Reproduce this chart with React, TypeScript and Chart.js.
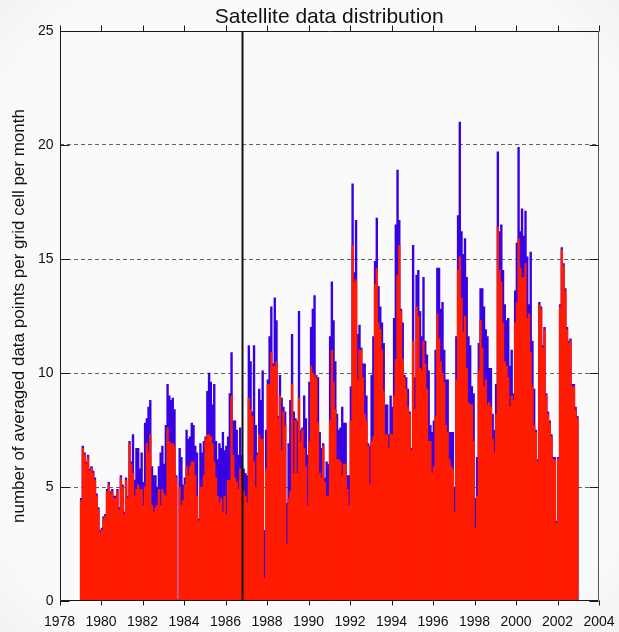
import React, { useEffect, useRef } from 'react';
import { Chart, registerables } from 'chart.js';

Chart.register(...registerables);

const TITLE = 'Satellite data distribution';
const Y_TITLE = 'number of averaged data points per grid cell per month';

const YEARS = [1979, 1980, 1981, 1982, 1983, 1984, 1985, 1986, 1987, 1988, 1989, 1990,
  1991, 1992, 1993, 1994, 1995, 1996, 1997, 1998, 1999, 2000, 2001, 2002];
const X_TICKS = [1978, 1980, 1982, 1984, 1986, 1988, 1990, 1992, 1994, 1996, 1998, 2000, 2002, 2004];
const Y_TICKS = [0, 5, 10, 15, 20, 25];
const MARKER_YEAR = 1986.82;

// red series (monthly, Jan..Dec per row)
const SUBSET = [
  4.4, 6.7, 6.4, 6.0, 6.3, 5.7, 5.8, 5.6, 5.3, 4.6, 4.0, 3.0, // 1979
  3.1, 3.6, 3.7, 4.8, 5.1, 4.7, 4.8, 4.5, 4.5, 4.8, 4.0, 5.4, // 1980
  5.0, 3.8, 5.3, 4.5, 6.9, 6.0, 5.6, 4.6, 4.9, 5.1, 4.9, 4.9, // 1981
  4.2, 5.0, 6.9, 6.5, 7.3, 4.2, 3.9, 4.1, 4.2, 4.9, 4.2, 4.9, // 1982
  4.7, 4.6, 7.6, 7.0, 6.9, 6.9, 6.8, 5.4, 0.0, 5.0, 4.2, 4.4, // 1983
  5.1, 5.9, 5.5, 5.9, 6.1, 6.1, 5.5, 4.6, 3.5, 5.0, 5.0, 5.5, // 1984
  7.1, 7.3, 7.3, 7.2, 6.9, 6.1, 5.4, 4.6, 4.3, 4.5, 3.9, 4.6, // 1985
  3.8, 5.3, 5.3, 9.0, 6.4, 5.4, 5.2, 4.9, 5.8, 5.2, 4.8, 4.6, // 1986
  4.3, 8.9, 8.4, 8.1, 6.1, 5.0, 6.4, 7.3, 7.1, 7.1, 1.0, 5.8, // 1987
  9.5, 9.5, 10.9, 10.3, 10.3, 10.5, 8.0, 9.0, 6.6, 8.3, 7.7, 2.5, // 1988
  4.5, 4.8, 9.5, 5.6, 7.9, 5.6, 8.9, 7.0, 7.5, 6.7, 5.9, 4.2, // 1989
  7.0, 10.3, 10.0, 9.9, 9.8, 7.8, 5.6, 5.4, 6.8, 5.2, 4.6, 4.6, // 1990
  7.9, 11.0, 9.6, 8.4, 6.2, 6.2, 6.1, 5.5, 6.0, 6.0, 4.9, 4.2, // 1991
  7.9, 15.6, 14.0, 14.1, 9.7, 11.0, 11.0, 9.8, 8.2, 7.9, 6.8, 5.1, // 1992
  7.0, 7.2, 13.9, 14.6, 12.2, 11.9, 11.0, 9.2, 7.3, 7.3, 6.7, 7.3, // 1993
  7.3, 9.0, 10.6, 14.3, 15.6, 12.7, 10.6, 9.8, 9.3, 8.5, 8.2, 6.6, // 1994
  11.4, 8.4, 12.9, 12.5, 10.2, 10.1, 11.4, 10.4, 9.3, 7.0, 7.0, 5.6, // 1995
  5.9, 8.1, 12.6, 11.5, 10.5, 10.0, 9.6, 7.7, 7.4, 6.2, 5.9, 5.8, // 1996
  3.9, 9.7, 14.5, 15.1, 13.3, 11.8, 12.5, 10.2, 8.7, 8.6, 8.6, 7.0, // 1997
  3.2, 4.6, 10.1, 12.3, 11.1, 9.4, 9.7, 8.6, 8.7, 8.5, 7.1, 6.5, // 1998
  8.2, 16.4, 14.5, 14.0, 12.2, 10.5, 10.3, 9.8, 8.5, 9.0, 8.8, 12.2, // 1999
  13.1, 15.9, 14.6, 14.2, 14.2, 14.8, 12.4, 12.6, 10.9, 9.4, 7.7, 7.4, // 2000
  6.1, 13.0, 12.8, 11.1, 11.9, 9.0, 8.2, 7.8, 7.2, 6.2, 6.2, 3.4, // 2001
  6.2, 12.9, 15.4, 14.7, 13.6, 11.9, 11.3, 11.4, 9.4, 9.4, 8.4, 8.0, // 2002
];

// blue series (monthly totals)
const TOTAL = [
  4.5, 6.8, 6.5, 6.1, 6.4, 5.8, 5.9, 5.7, 5.4, 4.7, 4.1, 3.1, // 1979
  3.2, 3.7, 3.8, 4.9, 5.2, 4.8, 4.9, 4.6, 4.6, 4.9, 4.1, 5.5, // 1980
  5.1, 3.9, 5.4, 4.6, 7.0, 6.1, 7.3, 5.3, 6.7, 6.7, 5.8, 6.5, // 1981
  5.2, 7.8, 8.0, 8.5, 8.8, 5.9, 5.5, 5.5, 5.0, 5.9, 6.5, 6.8, // 1982
  6.0, 7.7, 9.5, 9.0, 8.8, 8.9, 8.4, 5.5, 0.05, 6.7, 6.3, 5.1, // 1983
  5.4, 7.5, 7.1, 7.2, 7.8, 7.7, 6.8, 6.5, 3.6, 6.9, 6.5, 7.0, // 1984
  7.2, 9.2, 10.0, 9.6, 8.6, 9.5, 7.0, 6.2, 6.9, 6.7, 7.4, 6.6, // 1985
  6.8, 7.2, 9.1, 10.9, 7.9, 7.9, 7.5, 6.4, 7.6, 6.4, 5.8, 5.6, // 1986
  5.5, 11.2, 10.5, 8.3, 11.2, 7.7, 6.5, 9.3, 8.8, 10.1, 3.1, 7.5, // 1987
  9.7, 11.6, 12.9, 10.4, 13.3, 12.3, 8.1, 9.9, 8.9, 8.5, 8.3, 4.3, // 1988
  6.9, 8.8, 11.7, 8.3, 8.0, 7.9, 12.7, 7.5, 7.6, 9.0, 8.0, 6.4, // 1989
  9.6, 12.0, 12.8, 13.4, 9.9, 9.8, 7.4, 6.7, 6.9, 5.4, 6.1, 6.0, // 1990
  11.6, 14.0, 12.3, 10.5, 8.2, 7.5, 7.6, 8.5, 7.8, 7.8, 5.5, 5.5, // 1991
  9.4, 18.3, 14.4, 16.7, 11.7, 12.1, 11.1, 10.4, 10.4, 9.0, 6.9, 6.8, // 1992
  9.9, 11.6, 14.9, 16.8, 13.8, 12.9, 12.2, 11.3, 8.6, 8.6, 7.3, 9.0, // 1993
  8.5, 12.4, 16.5, 18.9, 16.7, 12.8, 12.2, 9.9, 9.8, 9.3, 8.3, 6.7, // 1994
  15.6, 9.8, 14.3, 14.5, 12.7, 11.6, 14.2, 11.4, 10.8, 10.1, 7.7, 7.4, // 1995
  7.9, 11.0, 14.6, 14.6, 12.8, 13.1, 11.0, 9.7, 9.7, 7.4, 7.4, 7.4, // 1996
  5.0, 11.6, 16.9, 21.0, 16.2, 15.2, 15.9, 14.2, 11.6, 11.2, 9.4, 9.1, // 1997
  4.5, 6.3, 11.3, 13.7, 13.7, 12.9, 11.9, 11.6, 10.2, 10.2, 8.2, 7.5, // 1998
  9.5, 19.7, 16.2, 16.5, 14.5, 13.0, 12.3, 12.4, 10.3, 11.0, 9.1, 13.6, // 1999
  15.7, 19.9, 16.2, 17.2, 16.0, 17.1, 15.1, 13.0, 15.3, 11.4, 9.3, 7.5, // 2000
  6.2, 13.1, 12.9, 11.2, 12.0, 9.1, 8.3, 7.9, 7.3, 6.3, 6.3, 3.5, // 2001
  6.3, 13.0, 15.5, 14.8, 13.7, 12.0, 11.4, 11.5, 9.5, 9.5, 8.5, 8.1, // 2002
];

const RED = 'rgb(255, 28, 0)';
const BLUE = 'rgb(56, 0, 228)';
const W = 619;
const H = 632;
const FONT = "'Liberation Sans', Arial, sans-serif";

const MONTH_X = YEARS.flatMap((yr) => Array.from({ length: 12 }, (_, m) => yr + (m + 0.5) / 12));

const framePlugin = {
  id: 'frame',
  afterDraw(chart: any) {
    const { ctx, chartArea: a, scales } = chart;
    const xs = scales.x;
    const ys = scales.y;
    const L = Math.round(a.left) + 0.5;
    const R = Math.round(a.right) - 0.5;
    const T = Math.round(a.top) + 0.5;
    const B = Math.round(a.bottom) - 0.5;
    ctx.save();
    ctx.lineWidth = 1;
    ctx.strokeStyle = '#1a1a1a';
    const line = (x1: number, y1: number, x2: number, y2: number) => {
      ctx.beginPath();
      ctx.moveTo(x1, y1);
      ctx.lineTo(x2, y2);
      ctx.stroke();
    };
    line(L, T, R, T);
    line(L, B, R, B);
    line(L, T, L, B);
    ctx.strokeStyle = '#555';
    line(R, T, R, B);
    ctx.strokeStyle = '#1a1a1a';
    Y_TICKS.forEach((v) => {
      const py = Math.round(ys.getPixelForValue(v)) + 0.5;
      line(L, py, L + 9, py);
      line(R - 9, py, R, py);
    });
    X_TICKS.forEach((v) => {
      const px = Math.round(xs.getPixelForValue(v)) + 0.5;
      line(px, T - 6, px, T);
      line(px, B, px, B + 5);
    });
    // title centred over the plot area
    ctx.fillStyle = '#111';
    ctx.font = `normal 21px ${FONT}`;
    ctx.textAlign = 'center';
    ctx.textBaseline = 'middle';
    ctx.fillText(TITLE, (a.left + a.right) / 2, 17);
    ctx.restore();
  },
};

export default function App() {
  const ref = useRef<HTMLCanvasElement | null>(null);

  useEffect(() => {
    if (!ref.current) return;
    const chart = new Chart(ref.current, {
      type: 'bar',
      data: {
        datasets: [
          {
            type: 'line',
            label: 'marker',
            data: [
              { x: MARKER_YEAR, y: 0 },
              { x: MARKER_YEAR, y: 25 },
            ],
            borderColor: '#111',
            borderWidth: 2,
            pointRadius: 0,
            order: 0,
          } as any,
          {
            type: 'bar',
            label: 'subset',
            data: SUBSET.map((v, i) => ({ x: MONTH_X[i], y: v })),
            backgroundColor: RED,
            borderWidth: 0,
            barPercentage: 1,
            categoryPercentage: 1,
            grouped: false,
            order: 1,
          } as any,
          {
            type: 'bar',
            label: 'total',
            data: TOTAL.map((v, i) => ({ x: MONTH_X[i], y: v })),
            backgroundColor: BLUE,
            borderWidth: 0,
            barPercentage: 1,
            categoryPercentage: 1,
            grouped: false,
            order: 2,
          } as any,
        ],
      },
      options: {
        responsive: false,
        animation: false,
        devicePixelRatio: 1,
        layout: { padding: { top: 31, right: 20, bottom: 0, left: 0 } },
        plugins: {
          legend: { display: false },
          tooltip: { enabled: false },
          title: { display: false },
        },
        scales: {
          x: {
            type: 'linear',
            min: 1978,
            max: 2004,
            offset: false,
            grid: { display: false, offset: false },
            border: { display: false },
            afterBuildTicks: (s: any) => {
              s.ticks = X_TICKS.map((v) => ({ value: v }));
            },
            afterFit: (s: any) => {
              s.height = 31;
              s.paddingLeft = 0;
              s.paddingRight = 0;
            },
            ticks: {
              autoSkip: false,
              maxRotation: 0,
              padding: 5,
              color: '#111',
              font: { family: FONT, size: 14 },
              callback: (v: any) => String(v),
            },
          },
          y: {
            type: 'linear',
            min: 0,
            max: 25,
            afterBuildTicks: (s: any) => {
              s.ticks = Y_TICKS.map((v) => ({ value: v }));
            },
            afterFit: (s: any) => {
              s.width = 59.5;
              s.paddingTop = 0;
              s.paddingBottom = 0;
            },
            grid: {
              drawTicks: false,
              lineWidth: 1,
              color: (c: any) => (c.tick && (c.tick.value === 0 || c.tick.value === 25) ? 'rgba(0,0,0,0)' : 'rgba(70,70,70,0.85)'),
            },
            border: { display: false, dash: [4, 3] },
            ticks: {
              padding: 6,
              color: '#111',
              font: { family: FONT, size: 14 },
              callback: (v: any) => String(v),
            },
            title: {
              display: true,
              text: Y_TITLE,
              color: '#111',
              font: { family: FONT, size: 17 },
              padding: { top: 9, bottom: 0 },
            },
          },
        },
      },
      plugins: [framePlugin],
    } as any);
    return () => chart.destroy();
  }, []);

  return (
    <div
      style={{
        position: 'absolute',
        left: 0,
        top: 0,
        width: W,
        height: H,
        background: 'radial-gradient(ellipse 80% 80% at 50% 50%, #fafafa 75%, #ececec 100%)',
      }}
    >
      <canvas ref={ref} width={W} height={H} style={{ display: 'block', width: W, height: H }} />
    </div>
  );
}
